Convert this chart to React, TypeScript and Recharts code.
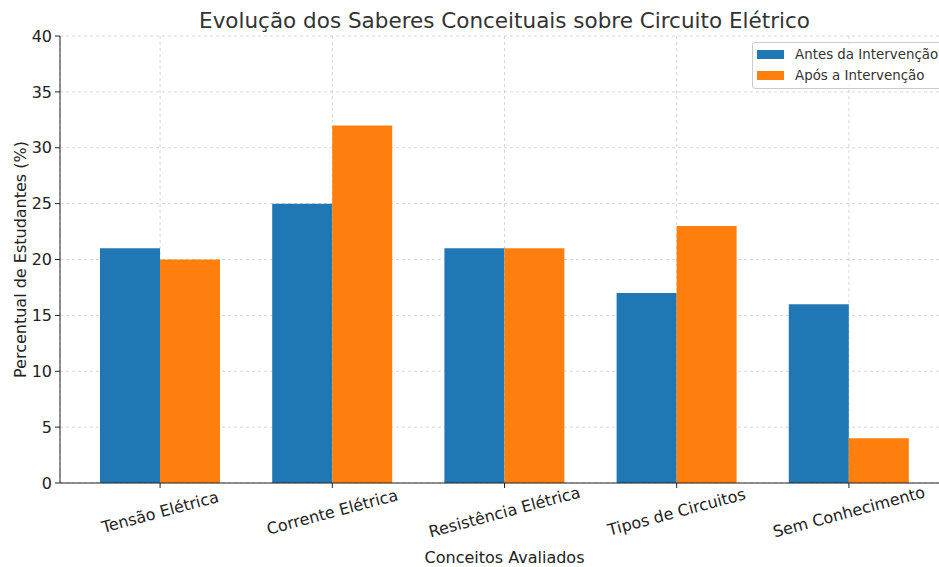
import React from 'react';
import { BarChart, Bar, XAxis, YAxis, CartesianGrid } from 'recharts';

const categories = ['Tensão Elétrica', 'Corrente Elétrica', 'Resistência Elétrica', 'Tipos de Circuitos', 'Sem Conhecimento'];
const antes = [21, 25, 21, 17, 16];
const apos = [20, 32, 21, 23, 4];
const yTicks = [0, 5, 10, 15, 20, 25, 30, 35, 40];
const seriesNames = ['Antes da Intervenção', 'Após a Intervenção'];

const data = categories.map((name, i) => ({ name, antes: antes[i], apos: apos[i] }));

const FONT = '"DejaVu Sans", sans-serif';
const BLUE = '#1f77b4';
const ORANGE = '#ff7f0e';

const XTick = (props: any) => {
  const { x, y, payload } = props;
  const cy = y + 22;
  return (
    <text x={x} y={cy} textAnchor="middle" dominantBaseline="central" fontSize={16} fill="#222"
      fontFamily={FONT} transform={`rotate(-15, ${x}, ${cy})`}>
      {payload.value}
    </text>
  );
};

// legend drawn as an overlay so it doesn't eat into the plot area
const LegendBox = () => (
  <div style={{ position: 'absolute', left: 752, top: 42, border: '1px solid #ccc', borderRadius: 3, background: 'rgba(255,255,255,0.8)', padding: '1px 6px 2px 4px', fontFamily: FONT, fontSize: 13.4, color: '#333', lineHeight: '21px', whiteSpace: 'nowrap' }}>
    {[[seriesNames[0], BLUE], [seriesNames[1], ORANGE]].map(([label, c]) => (
      <div key={label} style={{ display: 'flex', alignItems: 'center' }}>
        <span style={{ display: 'inline-block', width: 27, height: 9, background: c, marginRight: 11 }} />
        {label}
      </div>
    ))}
  </div>
);

export default function App() {
  return (
    <div style={{ position: 'absolute', left: 0, top: 0, width: 939, height: 567, overflow: 'hidden', background: '#fff' }}>
      <div style={{ position: 'absolute', left: 0, width: 1009, top: 8, textAlign: 'center', fontFamily: FONT, fontSize: 21.5, color: '#333' }}>
        Evolução dos Saberes Conceituais sobre Circuito Elétrico
      </div>
      <BarChart width={960} height={567} data={data} margin={{ top: 36, right: 11, bottom: 0, left: 0 }}
        barGap={0} barSize={60}>
        <XAxis dataKey="name" height={84} padding={{ left: 14, right: 14 }} tick={<XTick />} interval={0}
          tickSize={5} tickMargin={2} stroke="#222"
          label={{ content: ({ viewBox }: any) => (
            <text x={viewBox.x + viewBox.width / 2} y={viewBox.y + 74} textAnchor="middle" dominantBaseline="central"
              fontSize={16} fill="#222" fontFamily={FONT}>Conceitos Avaliados</text>
          ) }} />
        <YAxis width={60} domain={[0, 40]} ticks={yTicks} interval={0} tickSize={5} tickMargin={3} stroke="#222"
          tick={{ fontSize: 16, fill: '#222', fontFamily: FONT }}
          label={{ content: ({ viewBox }: any) => (
            <text x={20} y={viewBox.y + viewBox.height / 2} textAnchor="middle" dominantBaseline="central"
              fontSize={16} fill="#222" fontFamily={FONT}
              transform={`rotate(-90, 20, ${viewBox.y + viewBox.height / 2})`}>Percentual de Estudantes (%)</text>
          ) }} />
        <Bar dataKey="antes" name={seriesNames[0]} fill={BLUE} isAnimationActive={false} />
        <Bar dataKey="apos" name={seriesNames[1]} fill={ORANGE} isAnimationActive={false} />
        <CartesianGrid stroke="#b0b0b0" strokeOpacity={0.5} strokeDasharray="3 3" />
      </BarChart>
      <LegendBox />
    </div>
  );
}
